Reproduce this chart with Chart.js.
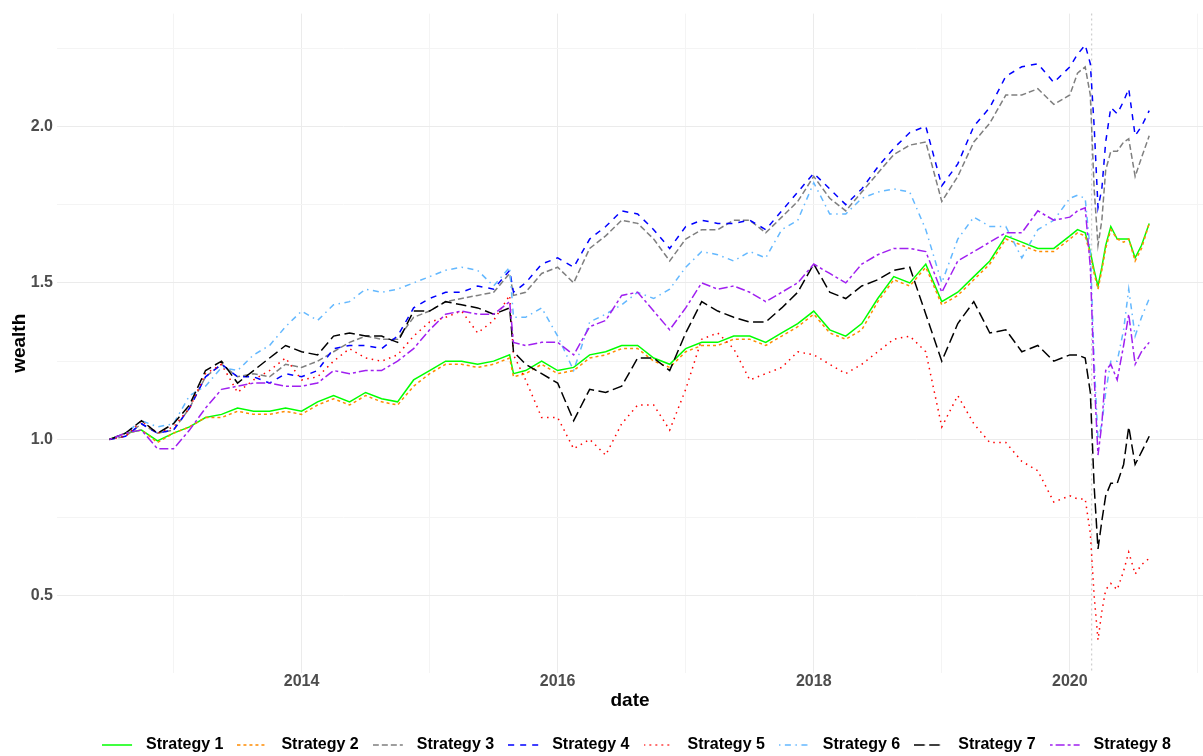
<!DOCTYPE html>
<html>
<head>
<meta charset="utf-8">
<script src="https://cdn.jsdelivr.net/npm/chart.js@4.4.1/dist/chart.umd.min.js"></script>
<style>
  html, body { margin: 0; padding: 0; background: #ffffff; }
  #wrap { width: 1203px; height: 756px; }
</style>
</head>
<body>
<div id="wrap"><canvas id="chart_wealth" width="1203" height="756"></canvas></div>
<script>
// dates as decimal years (quarter-ish sampling, denser round the 2020 crash)
const dates = [
  2012.5, 2012.625, 2012.75, 2012.875,
  2013.0, 2013.125, 2013.25, 2013.375, 2013.5, 2013.625, 2013.75, 2013.875,
  2014.0, 2014.125, 2014.25, 2014.375, 2014.5, 2014.625, 2014.75, 2014.875,
  2015.0, 2015.125, 2015.25, 2015.375, 2015.5, 2015.625, 2015.655, 2015.75, 2015.875,
  2016.0, 2016.125, 2016.25, 2016.375, 2016.5, 2016.625, 2016.75, 2016.875,
  2017.0, 2017.125, 2017.25, 2017.375, 2017.5, 2017.625, 2017.75, 2017.875,
  2018.0, 2018.125, 2018.25, 2018.375, 2018.5, 2018.625, 2018.75, 2018.875,
  2019.0, 2019.125, 2019.25, 2019.375, 2019.5, 2019.625, 2019.75, 2019.875,
  2020.0, 2020.06, 2020.12, 2020.16, 2020.19, 2020.22, 2020.25, 2020.28, 2020.32,
  2020.37, 2020.42, 2020.46, 2020.51, 2020.56, 2020.62,
];

const strategy1 = [
  1.00, 1.02, 1.03, 0.995,
  1.02, 1.04, 1.07, 1.08, 1.10, 1.09, 1.09, 1.10,
  1.09, 1.12, 1.14, 1.12, 1.15, 1.13, 1.12, 1.19,
  1.22, 1.25, 1.25, 1.24, 1.25, 1.27, 1.21, 1.22, 1.25,
  1.22, 1.23, 1.27, 1.28, 1.30, 1.30, 1.26, 1.24,
  1.29, 1.31, 1.31, 1.33, 1.33, 1.31, 1.34, 1.37,
  1.41, 1.35, 1.33, 1.37, 1.45, 1.52, 1.50, 1.56,
  1.44, 1.47, 1.52, 1.57, 1.65, 1.63, 1.61, 1.61,
  1.65, 1.67, 1.66, 1.60, 1.54, 1.49, 1.55, 1.62, 1.68, 1.64, 1.64, 1.64, 1.58, 1.62, 1.69,
];
const strategy2 = [
  1.00, 1.02, 1.03, 0.99,
  1.02, 1.04, 1.07, 1.07, 1.09, 1.08, 1.08, 1.09,
  1.08, 1.11, 1.13, 1.11, 1.14, 1.12, 1.11, 1.17,
  1.21, 1.24, 1.24, 1.23, 1.24, 1.26, 1.20, 1.21, 1.24,
  1.21, 1.22, 1.26, 1.27, 1.29, 1.29, 1.25, 1.23,
  1.28, 1.30, 1.30, 1.32, 1.32, 1.30, 1.33, 1.36,
  1.40, 1.34, 1.32, 1.35, 1.44, 1.51, 1.49, 1.55,
  1.43, 1.46, 1.51, 1.56, 1.64, 1.62, 1.60, 1.60,
  1.64, 1.66, 1.65, 1.59, 1.53, 1.48, 1.54, 1.61, 1.67, 1.64, 1.63, 1.64, 1.57, 1.61, 1.69,
];
const strategy3 = [
  1.00, 1.01, 1.05, 1.02,
  1.03, 1.10, 1.20, 1.24, 1.20, 1.21, 1.20, 1.24,
  1.23, 1.25, 1.28, 1.31, 1.33, 1.32, 1.32, 1.39,
  1.41, 1.44, 1.45, 1.46, 1.47, 1.53, 1.46, 1.47, 1.53,
  1.55, 1.50, 1.61, 1.65, 1.70, 1.69, 1.64, 1.57,
  1.64, 1.67, 1.67, 1.70, 1.70, 1.66, 1.71, 1.76,
  1.84, 1.77, 1.73, 1.79, 1.85, 1.91, 1.94, 1.95,
  1.76, 1.84, 1.95, 2.01, 2.10, 2.10, 2.12, 2.07,
  2.10, 2.17, 2.19, 2.10, 1.80, 1.62, 1.70, 1.86, 1.92, 1.92, 1.95, 1.96, 1.84, 1.90, 1.97,
];
const strategy4 = [
  1.00, 1.01, 1.05, 1.02,
  1.03, 1.10, 1.20, 1.24, 1.20, 1.20, 1.18, 1.21,
  1.20, 1.22, 1.29, 1.30, 1.30, 1.29, 1.33, 1.42,
  1.45, 1.47, 1.47, 1.49, 1.48, 1.54, 1.47, 1.50, 1.56,
  1.58, 1.55, 1.64, 1.68, 1.73, 1.72, 1.67, 1.61,
  1.68, 1.70, 1.69, 1.69, 1.70, 1.67, 1.73, 1.79,
  1.85, 1.80, 1.75, 1.80, 1.87, 1.93, 1.98, 2.00,
  1.81, 1.88, 2.00, 2.06, 2.16, 2.19, 2.20, 2.14,
  2.19, 2.23, 2.26, 2.20, 2.00, 1.74, 1.80, 1.95, 2.06, 2.04, 2.08, 2.12, 1.97, 2.00, 2.05,
];
const strategy5 = [
  1.00, 1.01, 1.06, 1.02,
  1.04, 1.10, 1.21, 1.24, 1.15, 1.19, 1.22, 1.26,
  1.19, 1.20, 1.25, 1.29, 1.26, 1.25, 1.27, 1.33,
  1.375, 1.39, 1.41, 1.34, 1.38, 1.46, 1.27, 1.19, 1.07,
  1.07, 0.97, 1.00, 0.95, 1.05, 1.11, 1.11, 1.03,
  1.16, 1.32, 1.34, 1.29, 1.19, 1.21, 1.23, 1.28,
  1.27, 1.24, 1.21, 1.24, 1.28, 1.32, 1.33, 1.28,
  1.04, 1.14, 1.05, 0.99, 0.99, 0.93, 0.90, 0.80,
  0.82, 0.81, 0.81, 0.70, 0.50, 0.36, 0.45, 0.52, 0.54, 0.52, 0.58, 0.64, 0.57, 0.60, 0.62,
];
const strategy6 = [
  1.00, 1.02, 1.06, 1.04,
  1.05, 1.14, 1.17, 1.23, 1.22, 1.27, 1.30, 1.36,
  1.41, 1.38, 1.43, 1.44, 1.48, 1.47, 1.48, 1.50,
  1.52, 1.54, 1.55, 1.54, 1.49, 1.55, 1.39, 1.39, 1.42,
  1.33, 1.22, 1.375, 1.40, 1.43, 1.47, 1.45, 1.48,
  1.55, 1.60, 1.59, 1.57, 1.60, 1.58, 1.67, 1.70,
  1.82, 1.72, 1.72, 1.77, 1.79, 1.80, 1.79, 1.67,
  1.50, 1.64, 1.71, 1.68, 1.68, 1.58, 1.67, 1.70,
  1.77, 1.78, 1.77, 1.60, 1.25, 1.00, 1.05, 1.15, 1.25, 1.25, 1.35, 1.48, 1.33, 1.39, 1.45,
];
const strategy7 = [
  1.00, 1.02, 1.06, 1.02,
  1.05, 1.11, 1.22, 1.25, 1.18, 1.22, 1.26, 1.30,
  1.28, 1.27, 1.33, 1.34, 1.33, 1.33, 1.31, 1.41,
  1.41, 1.44, 1.43, 1.42, 1.40, 1.42, 1.28, 1.24, 1.21,
  1.18, 1.06, 1.16, 1.15, 1.17, 1.26, 1.26, 1.22,
  1.34, 1.44, 1.41, 1.39, 1.375, 1.375, 1.42, 1.47,
  1.56, 1.47, 1.45, 1.49, 1.51, 1.54, 1.55, 1.40,
  1.25, 1.37, 1.44, 1.34, 1.35, 1.28, 1.30, 1.25,
  1.27, 1.27, 1.26, 1.15, 0.85, 0.65, 0.74, 0.82, 0.86, 0.86, 0.92, 1.04, 0.92, 0.96, 1.01,
];
const strategy8 = [
  1.00, 1.02, 1.03, 0.97,
  0.97, 1.03, 1.10, 1.16, 1.17, 1.18, 1.18, 1.17,
  1.17, 1.18, 1.22, 1.21, 1.22, 1.22, 1.25, 1.29,
  1.35, 1.40, 1.41, 1.40, 1.40, 1.44, 1.31, 1.30, 1.31,
  1.31, 1.27, 1.36, 1.38, 1.46, 1.47, 1.41, 1.35,
  1.42, 1.50, 1.48, 1.49, 1.47, 1.44, 1.47, 1.50,
  1.56, 1.53, 1.50, 1.56, 1.59, 1.61, 1.61, 1.60,
  1.47, 1.57, 1.60, 1.63, 1.66, 1.66, 1.73, 1.70,
  1.71, 1.73, 1.74, 1.55, 1.20, 0.95, 1.05, 1.22, 1.24, 1.19, 1.30, 1.40, 1.24, 1.28, 1.31,
];

const seriesNames = ["Strategy 1", "Strategy 2", "Strategy 3", "Strategy 4",
                     "Strategy 5", "Strategy 6", "Strategy 7", "Strategy 8"];
const seriesValues = [strategy1, strategy2, strategy3, strategy4,
                      strategy5, strategy6, strategy7, strategy8];
const seriesColors = ["#00FF00", "#FF8C00", "#7F7F7F", "#0000FF",
                      "#FF0000", "#63B8FF", "#000000", "#A020F0"];
// ggplot linetypes: solid, 22, 42, 44, 13, 1343, 73, 2262
const seriesDash = [[], [3, 3], [6, 3], [6, 6], [1.5, 4.5], [1.5, 4.5, 6, 4.5], [10.5, 4.5], [3, 3, 9, 3]];

const yearTicks = [2014, 2016, 2018, 2020];
const wealthTicks = [0.5, 1.0, 1.5, 2.0];
const markerDate = 2020.17;

const gridMajor = "#EBEBEB";
const gridMinor = "#F4F4F4";
const fontFamily = '"Liberation Sans", Arial, sans-serif';

Chart.defaults.font.family = fontFamily;

// legend key: short line with the series dash, drawn on a small canvas
function makeSwatch(color, dash) {
  const c = document.createElement("canvas");
  c.width = 36;
  c.height = 16;
  const g = c.getContext("2d");
  g.strokeStyle = color;
  g.lineWidth = 1.5;
  g.setLineDash(dash);
  g.beginPath();
  g.moveTo(0, 8);
  g.lineTo(30, 8);
  g.stroke();
  return c;
}

const datasets = seriesNames.map((name, i) => ({
  label: name,
  data: dates.map((d, j) => ({ x: d, y: seriesValues[i][j] })),
  borderColor: seriesColors[i],
  backgroundColor: seriesColors[i],
  borderWidth: 1.5,
  borderDash: seriesDash[i],
  borderCapStyle: "butt",
  pointRadius: 0,
  pointHoverRadius: 0,
  pointStyle: makeSwatch(seriesColors[i], seriesDash[i]),
  tension: 0,
  fill: false,
  order: seriesNames.length - i, // later strategies on top, like ggplot
}));

// dotted vertical marker
const markerLine = {
  id: "markerLine",
  beforeDatasetsDraw(chart) {
    const { ctx, chartArea, scales } = chart;
    const px = scales.x.getPixelForValue(markerDate);
    ctx.save();
    ctx.strokeStyle = "#CFCFCF";
    ctx.lineWidth = 1.3;
    ctx.setLineDash([2, 3]);
    ctx.beginPath();
    ctx.moveTo(px, chartArea.top);
    ctx.lineTo(px, chartArea.bottom);
    ctx.stroke();
    ctx.restore();
  },
};

// move legend row to where ggplot puts it
const legendNudge = {
  id: "legendNudge",
  afterLayout(chart) {
    chart.legend.left += 35;
    chart.legend.right += 35;
    chart.legend.top += 7;
    chart.legend.bottom += 7;
  },
};

const ctx = document.getElementById("chart_wealth").getContext("2d");
const chartWealth = new Chart(ctx, {
  type: "line",
  data: { datasets: datasets },
  plugins: [markerLine, legendNudge],
  options: {
    responsive: false,
    animation: false,
    devicePixelRatio: 1,
    events: [],
    layout: { padding: { top: 10, right: 0, bottom: 0, left: 0 } },
    plugins: {
      tooltip: { enabled: false },
      legend: {
        position: "bottom",
        align: "center",
        labels: {
          usePointStyle: true,
          pointStyleWidth: 36,
          padding: 14,
          color: "#000000",
          font: { size: 16, weight: "bold" },
          sort: (a, b) => a.datasetIndex - b.datasetIndex,
        },
      },
    },
    scales: {
      x: {
        type: "linear",
        min: 2012.09,
        max: 2021.04,
        afterFit: (scale) => { scale.height = 43; },
        border: { display: false },
        grid: {
          drawTicks: false,
          lineWidth: 1,
          color: (c) => (c.tick && yearTicks.includes(c.tick.value) ? gridMajor : gridMinor),
        },
        ticks: {
          stepSize: 1,
          includeBounds: false,
          autoSkip: false,
          maxRotation: 0,
          padding: 1,
          color: "#4D4D4D",
          font: { size: 16, weight: "bold", lineHeight: 1 },
          callback: (v) => (yearTicks.includes(v) ? String(v) : ""),
        },
        title: {
          display: true,
          text: "date",
          color: "#000000",
          font: { size: 19, weight: "bold" },
          padding: { top: 0, bottom: 4 },
        },
      },
      y: {
        type: "linear",
        min: 0.254,
        max: 2.36,
        afterFit: (scale) => { scale.width = 57; },
        border: { display: false },
        grid: {
          drawTicks: false,
          lineWidth: 1,
          color: (c) => (c.tick && wealthTicks.includes(c.tick.value) ? gridMajor : gridMinor),
        },
        ticks: {
          stepSize: 0.25,
          includeBounds: false,
          autoSkip: false,
          padding: 4,
          color: "#4D4D4D",
          font: { size: 16, weight: "bold" },
          callback: (v) => (wealthTicks.includes(v) ? v.toFixed(1) : ""),
        },
        title: {
          display: true,
          text: "wealth",
          color: "#000000",
          font: { size: 19, weight: "bold" },
          padding: { top: 8, bottom: 0 },
        },
      },
    },
  },
});
</script>
</body>
</html>
